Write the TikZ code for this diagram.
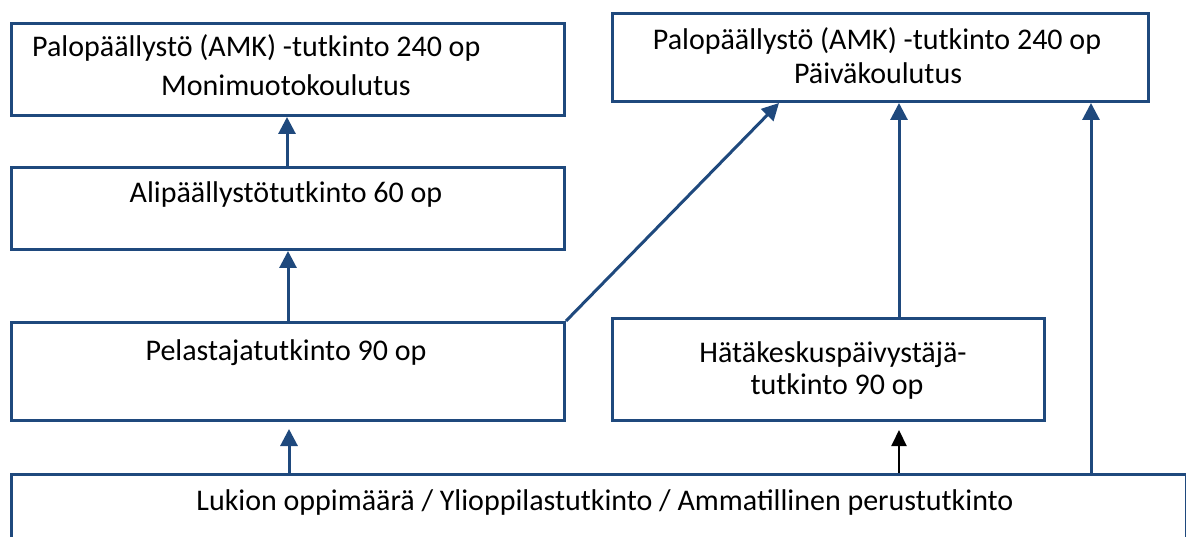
\documentclass[tikz,border=0pt]{standalone}
\usepackage{fontspec}
\setmainfont{Carlito}
\usetikzlibrary{arrows.meta}
\definecolor{navy}{HTML}{1F497D}
\tikzset{
  box/.style={draw=navy, line width=3pt, rectangle, inner sep=0pt, anchor=north west},
  lbl/.style={inner sep=0pt, font=\fontsize{30}{36}\selectfont, text=black},
  arr/.style={draw=navy, line width=3pt, -{Triangle[width=17pt,length=17pt]}},
  arrk/.style={draw=black, line width=2pt, -{Triangle[width=15pt,length=16pt]}}
}
\begin{document}
\begin{tikzpicture}[x=1pt,y=1pt]
\useasboundingbox (0,0) rectangle (1186,-537);
\clip (0,0) rectangle (1186,-537);
% boxes
\node[box, minimum width=553pt, minimum height=92pt] (A) at (10,-22) {};
\node[box, minimum width=553pt, minimum height=82pt] (B) at (10,-166) {};
\node[box, minimum width=553pt, minimum height=98pt] (C) at (10,-321) {};
\node[box, minimum width=536pt, minimum height=88pt] (D) at (611,-12) {};
\node[box, minimum width=432pt, minimum height=102pt] (E) at (611,-317) {};
\node[box, minimum width=1175pt, minimum height=110pt] (F) at (10,-473) {};
% labels
\node[lbl, anchor=base west] (A1) at (32,-57) {Palopäällystö (AMK) -tutkinto 240 op};
\node[lbl, anchor=base] (A2) at (286,-96) {Monimuotokoulutus};
\node[lbl, anchor=base] (B1) at (286,-203) {Alipäällystötutkinto 60 op};
\node[lbl, anchor=base] (C1) at (286,-360) {Pelastajatutkinto 90 op};
\node[lbl, anchor=base] (D1) at (877,-50) {Palopäällystö (AMK) -tutkinto 240 op};
\node[lbl, anchor=base] (D2) at (878,-84) {Päiväkoulutus};
\node[lbl, anchor=base] (E1) at (833,-362) {Hätäkeskuspäivystäjä-};
\node[lbl, anchor=base] (E2) at (837,-394) {tutkinto 90 op};
\node[lbl, anchor=base] (F1) at (605,-510) {Lukion oppimäärä / Ylioppilastutkinto / Ammatillinen perustutkinto};
% connector columns
\coordinate (x1) at (287,0);
\coordinate (x2) at (288,0);
\coordinate (x3) at (289,0);
\coordinate (x4) at (779,0);
\coordinate (x5) at (899,0);
\coordinate (x6) at (1091,0);
% connectors
\draw[arr] (B.north -| x1) -- (A.south -| x1);
\draw[arr] (C.north -| x2) -- (B.south -| x2);
\draw[arr, shorten >=7pt] (F.north -| x3) -- (C.south -| x3);
\draw[arr] (C.north east) -- (D.south -| x4);
\draw[arr] (E.north -| x5) -- (D.south -| x5);
\draw[arr] (F.north -| x6) -- (D.south -| x6);
\draw[arrk, shorten >=8pt] (F.north -| x5) -- (E.south -| x5);
\end{tikzpicture}
\end{document}
